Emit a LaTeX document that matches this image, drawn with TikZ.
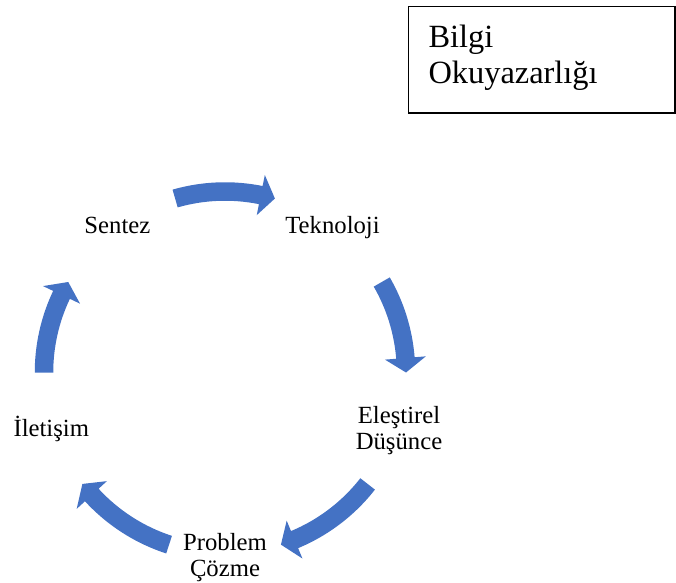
\documentclass[tikz,border=0pt]{standalone}
\usepackage{fontspec}
\setmainfont{Liberation Serif}
\definecolor{cycleblue}{HTML}{4472C4}
\begin{document}
\begin{tikzpicture}[x=1pt,y=1pt,
  lbl/.style={font=\fontsize{24.7}{25.8}\selectfont, inner sep=0pt, align=center},
  titlebox/.style={draw, line width=1.3pt, minimum width=266.5pt, minimum height=106.5pt, inner sep=0pt},
  cyclearrow/.style={fill=cycleblue, draw=none}]
\useasboundingbox (0,0) rectangle (676,582);

% title box (base anchor of a multi-line node sits on its last line)
\node[titlebox] (box) at (541.75,522.25) {};
\node[anchor=base west, align=left, inner sep=0pt,
      font=\fontsize{32.4}{35.6}\selectfont] (title) at (428.3,498.7) {Bilgi\\Okuyazarlığı};

% cycle labels
\node[lbl, anchor=base] (sentez) at (117.4,348.7) {Sentez};
\node[lbl, anchor=base] (tekno) at (332.5,348.7) {Teknoloji};
\node[lbl, anchor=base] (elest) at (399,132.7) {Eleştirel\\Düşünce};
\node[lbl, anchor=base] (problem) at (225,6) {Problem\\Çözme};
\node[lbl, anchor=base] (iletisim) at (51.3,145.3) {İletişim};

% curved arrows around the cycle (tail angle / tip angle)
\begin{scope}[shift={(225,209.5)}]
  \foreach \a/\b in {106/74, 30/0, -38/-72, -108/-142, 180/150}{
    \pgfmathsetmacro{\h}{\b+4.6}
    \fill[cyclearrow] (\a:190.25) arc[start angle=\a, end angle=\h, radius=190.25]
      -- (\h:201.5) -- (\b:181) -- (\h:160.5) -- (\h:171.75)
      arc[start angle=\h, end angle=\a, radius=171.75] -- cycle;
  }
\end{scope}
\end{tikzpicture}
\end{document}
